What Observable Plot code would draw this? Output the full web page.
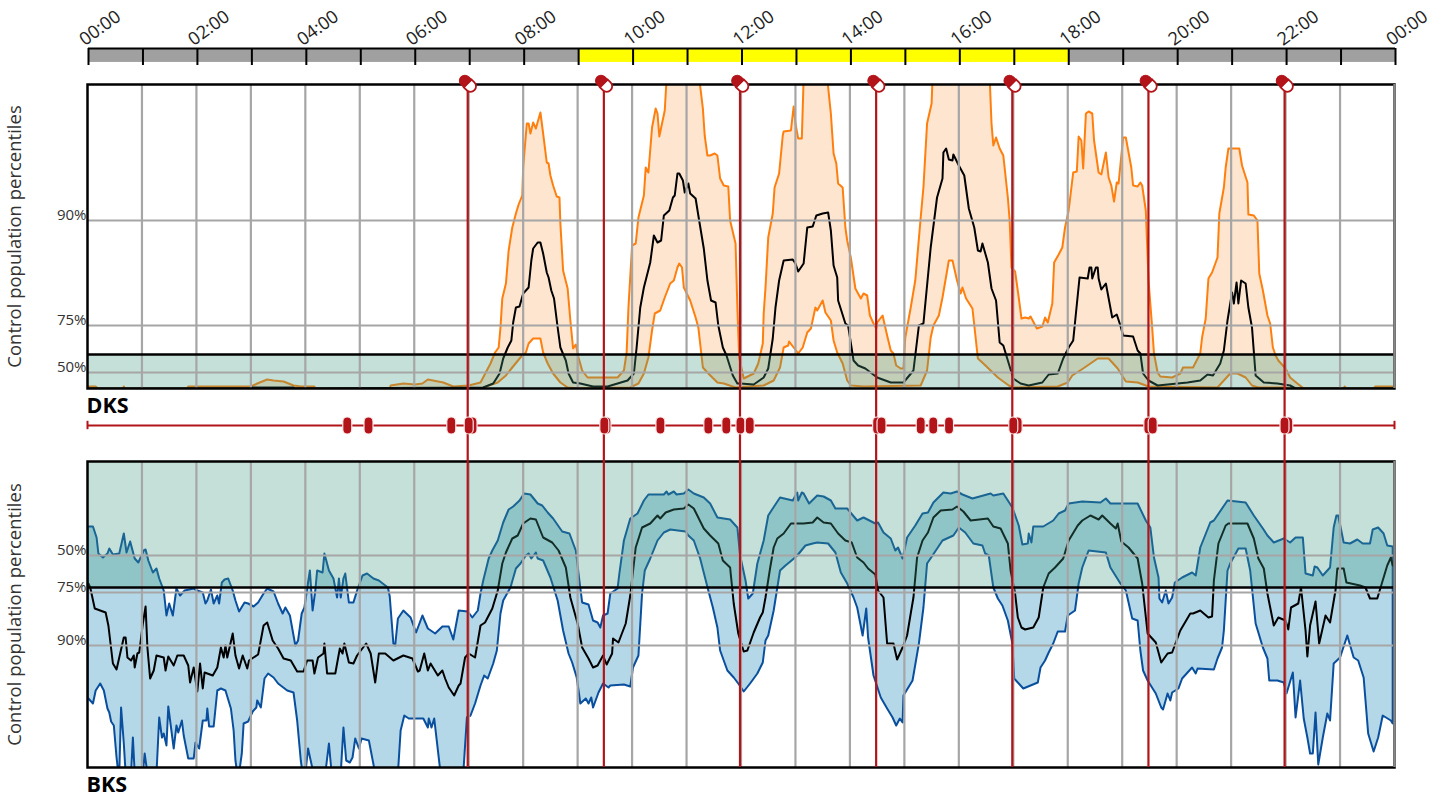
<!DOCTYPE html>
<html>
<head>
<meta charset="utf-8">
<script src="https://cdn.jsdelivr.net/npm/d3@7"></script>
<script src="https://cdn.jsdelivr.net/npm/@observablehq/plot@0.6"></script>
<style>
html,body{margin:0;padding:0;background:#fff}
#chart{position:relative;width:1444px;height:797px;overflow:hidden;font-family:"Open Sans",sans-serif}
#chart svg{position:absolute;left:0}
</style>
</head>
<body>
<div id="chart"></div>
<script>
// Each series: [minute of day, level on the panel's percentile scale]
const dksUpper = [[1,2],[9,2],[12,0],[39,0],[40,2],[41,0],[110,0],[111,2],[180,2],[187,5],[198,9],[205,8],[216,7],[227,3],[235,2],[250,2],[251,0],[333,0],[334,3],[348,5],[361,4],[369,5],[375,9],[392,6],[403,2],[420,3],[433,6],[444,25],[449,36],[453,41],[455,61],[457,90],[461,105],[464,138],[468,161],[472,175],[475,184],[479,193],[480,221],[484,265],[486,265],[488,255],[491,266],[494,260],[499,276],[502,255],[506,226],[508,225],[510,213],[513,203],[517,192],[520,191],[521,165],[524,118],[529,100],[532,68],[535,40],[538,44],[541,31],[545,18],[551,11],[584,11],[591,18],[594,36],[596,81],[600,143],[604,145],[607,171],[613,193],[615,221],[618,216],[622,261],[626,280],[628,275],[630,252],[633,265],[636,278],[638,310],[674,310],[678,280],[680,253],[683,233],[686,233],[691,235],[694,233],[697,210],[701,203],[706,202],[708,168],[714,145],[716,81],[718,31],[723,10],[734,15],[739,25],[744,45],[745,75],[747,101],[750,151],[755,175],[757,201],[762,215],[766,253],[767,257],[775,258],[778,282],[780,265],[783,250],[787,250],[789,310],[815,310],[819,275],[822,235],[825,225],[827,205],[832,201],[835,161],[837,148],[841,131],[846,100],[852,90],[855,95],[859,93],[862,73],[866,65],[869,60],[870,66],[876,73],[881,53],[885,38],[888,35],[891,23],[896,20],[899,20],[901,51],[907,81],[912,108],[918,171],[921,201],[925,265],[930,285],[931,310],[994,310],[996,265],[998,243],[1001,251],[1005,240],[1009,233],[1014,191],[1016,168],[1018,121],[1022,117],[1026,91],[1029,70],[1033,71],[1037,70],[1039,72],[1046,60],[1052,62],[1055,71],[1058,66],[1063,85],[1065,126],[1070,134],[1074,141],[1077,161],[1081,178],[1086,216],[1090,217],[1092,252],[1095,248],[1097,220],[1100,275],[1103,277],[1107,275],[1109,248],[1114,216],[1117,214],[1122,236],[1125,211],[1128,203],[1131,187],[1134,206],[1136,205],[1141,251],[1144,251],[1150,221],[1152,203],[1157,202],[1160,206],[1162,203],[1166,178],[1169,108],[1173,61],[1175,35],[1179,16],[1182,12],[1195,11],[1204,15],[1207,21],[1218,21],[1226,35],[1228,51],[1232,70],[1235,110],[1239,116],[1245,131],[1247,175],[1252,201],[1254,221],[1257,240],[1269,240],[1272,223],[1278,206],[1279,174],[1285,173],[1289,168],[1291,115],[1295,98],[1300,73],[1303,65],[1306,41],[1309,33],[1312,28],[1320,20],[1325,11],[1333,5],[1340,0],[1384,0],[1385,2],[1387,0],[1417,0],[1419,2],[1438,2],[1440,0]];
const dksMedian = [[0,0],[180,0],[181,1],[227,1],[228,0],[436,1],[447,5],[454,15],[458,30],[463,41],[467,48],[469,66],[472,81],[476,82],[480,95],[486,101],[489,128],[491,140],[496,146],[499,146],[502,135],[506,116],[508,111],[511,98],[514,90],[518,61],[521,41],[527,28],[530,15],[535,6],[543,5],[557,2],[573,2],[595,8],[602,15],[605,41],[609,81],[613,101],[620,126],[624,153],[628,146],[632,148],[635,173],[641,178],[645,191],[647,193],[650,215],[652,215],[656,208],[658,196],[662,205],[664,195],[670,190],[673,173],[679,140],[683,108],[687,88],[692,86],[695,63],[700,41],[704,33],[711,13],[716,5],[719,5],[734,4],[745,11],[750,20],[755,50],[758,81],[762,108],[767,128],[777,129],[780,125],[783,117],[789,125],[793,161],[799,162],[803,173],[810,175],[816,176],[819,158],[822,123],[826,111],[827,88],[835,65],[838,63],[844,28],[849,23],[857,20],[870,11],[885,6],[899,6],[910,18],[916,63],[921,65],[929,141],[936,191],[942,210],[943,236],[946,240],[949,229],[953,228],[954,234],[960,223],[966,213],[971,180],[977,161],[981,138],[984,137],[986,145],[992,126],[996,100],[1001,88],[1005,46],[1009,43],[1014,28],[1020,10],[1028,5],[1037,3],[1052,6],[1059,14],[1069,15],[1075,30],[1081,41],[1086,48],[1093,111],[1102,110],[1104,121],[1106,121],[1107,110],[1111,121],[1113,121],[1114,110],[1117,99],[1122,105],[1129,71],[1134,74],[1138,63],[1141,53],[1152,52],[1157,38],[1160,35],[1163,15],[1169,8],[1179,3],[1201,5],[1212,6],[1226,8],[1234,14],[1240,13],[1248,25],[1252,38],[1256,68],[1261,96],[1263,85],[1266,106],[1268,85],[1271,108],[1276,105],[1279,81],[1283,61],[1287,13],[1296,6],[1311,5],[1325,3],[1331,0],[1440,0]];
const dksLower = [[0,0],[433,0],[452,6],[461,13],[468,21],[477,31],[483,36],[486,45],[491,50],[499,50],[502,36],[507,25],[513,15],[521,6],[529,1],[543,0],[598,1],[607,5],[613,15],[618,31],[622,58],[625,75],[631,78],[636,91],[642,105],[646,108],[650,121],[652,125],[655,121],[657,101],[664,88],[670,71],[673,61],[678,21],[684,15],[694,6],[701,5],[714,1],[745,3],[756,8],[763,21],[767,41],[772,43],[773,47],[778,41],[783,35],[788,41],[793,56],[797,60],[802,81],[804,78],[810,88],[813,76],[819,68],[822,48],[826,36],[832,25],[837,8],[841,3],[855,2],[918,3],[925,18],[929,51],[932,63],[938,73],[942,91],[949,128],[953,128],[958,108],[962,95],[964,101],[968,90],[975,80],[981,30],[987,25],[1003,11],[1015,3],[1020,1],[1069,2],[1080,6],[1085,13],[1097,20],[1113,30],[1125,30],[1135,20],[1144,7],[1157,6],[1169,2],[1245,1],[1252,8],[1259,15],[1267,15],[1276,11],[1283,3],[1290,1],[1320,1],[1325,0],[1440,0]];

const bksUpper = [[0,241],[6,241],[10,230],[12,214],[17,210],[22,214],[24,219],[28,213],[35,214],[40,234],[43,215],[47,226],[52,209],[56,205],[62,217],[64,218],[67,207],[72,195],[76,199],[79,189],[84,177],[87,152],[90,164],[94,152],[98,179],[102,172],[107,177],[117,179],[121,177],[127,175],[130,164],[132,167],[136,178],[139,164],[143,172],[145,164],[148,185],[151,188],[155,189],[160,177],[163,167],[167,156],[173,165],[177,164],[183,161],[188,165],[194,174],[198,179],[205,176],[210,164],[215,154],[218,160],[223,152],[229,122],[232,127],[236,154],[239,160],[242,179],[245,197],[248,157],[251,177],[253,197],[259,195],[261,214],[266,197],[271,189],[275,170],[277,189],[279,170],[282,189],[284,194],[288,165],[293,165],[297,177],[303,192],[308,194],[315,189],[321,187],[331,180],[333,171],[337,124],[339,122],[342,149],[348,157],[356,150],[362,135],[369,152],[375,139],[383,134],[391,141],[398,141],[403,128],[409,157],[419,156],[424,150],[430,157],[433,174],[436,187],[442,209],[446,217],[452,227],[458,245],[464,258],[469,261],[476,267],[481,274],[488,273],[496,264],[501,262],[507,255],[513,249],[523,236],[531,234],[538,217],[541,194],[545,165],[552,163],[557,147],[562,145],[565,140],[568,152],[573,154],[576,174],[584,179],[586,194],[591,227],[598,249],[606,254],[613,267],[618,273],[635,273],[638,276],[640,273],[646,276],[649,273],[657,274],[662,278],[668,274],[679,270],[686,264],[694,250],[708,248],[716,240],[719,212],[725,187],[728,169],[733,174],[738,204],[745,227],[750,252],[755,259],[763,270],[777,267],[782,275],[783,267],[787,275],[789,274],[795,264],[804,272],[811,271],[819,267],[824,259],[837,259],[848,247],[855,250],[868,244],[871,245],[877,235],[885,229],[890,217],[893,220],[898,209],[903,230],[912,242],[920,254],[926,255],[932,265],[943,275],[951,274],[958,276],[964,273],[975,269],[995,274],[998,272],[1009,274],[1019,260],[1026,242],[1030,223],[1036,224],[1037,234],[1040,225],[1042,241],[1053,241],[1064,247],[1070,254],[1077,257],[1081,264],[1096,266],[1116,265],[1122,269],[1127,264],[1157,264],[1166,247],[1171,240],[1175,210],[1180,190],[1181,169],[1184,165],[1188,177],[1191,164],[1195,170],[1198,185],[1206,190],[1217,195],[1221,192],[1226,220],[1237,245],[1241,247],[1256,267],[1276,265],[1285,252],[1295,239],[1300,232],[1307,225],[1318,229],[1325,225],[1331,230],[1339,230],[1342,194],[1350,192],[1352,201],[1355,200],[1361,192],[1369,200],[1373,240],[1376,252],[1378,252],[1384,225],[1391,224],[1399,228],[1405,224],[1413,224],[1416,238],[1422,240],[1428,234],[1432,222],[1438,221]];
const bksMedian = [[1,184],[3,180],[8,159],[20,155],[23,142],[28,104],[32,98],[35,110],[40,130],[42,130],[44,110],[48,107],[51,112],[52,100],[55,114],[57,115],[61,144],[64,161],[66,120],[69,89],[73,97],[76,112],[84,110],[86,97],[89,111],[95,102],[99,112],[106,112],[111,102],[113,85],[117,100],[121,76],[124,104],[127,79],[129,95],[138,92],[143,100],[147,120],[150,110],[152,122],[154,110],[160,134],[163,112],[167,99],[171,112],[176,99],[178,107],[188,113],[194,142],[198,145],[204,127],[210,119],[216,109],[224,107],[231,96],[238,96],[242,107],[248,107],[250,94],[254,110],[260,114],[261,124],[264,94],[273,94],[278,119],[281,114],[283,124],[288,105],[293,104],[297,112],[307,124],[312,114],[317,85],[321,114],[328,114],[337,107],[348,112],[358,109],[364,96],[366,97],[371,114],[375,97],[378,104],[386,92],[391,97],[394,89],[398,80],[404,72],[409,82],[411,84],[416,110],[420,114],[427,110],[433,142],[438,145],[446,159],[452,177],[457,204],[461,215],[468,229],[474,232],[480,244],[488,249],[494,248],[502,230],[512,225],[519,217],[527,200],[532,170],[540,144],[545,120],[552,109],[557,100],[562,102],[565,107],[568,112],[572,103],[578,114],[579,129],[585,125],[593,144],[598,172],[604,220],[611,240],[620,244],[628,252],[631,249],[637,255],[646,258],[657,259],[662,263],[668,259],[679,239],[686,232],[695,224],[700,207],[708,200],[712,164],[717,134],[723,116],[727,117],[734,135],[741,150],[744,155],[747,170],[752,199],[756,220],[760,229],[767,234],[775,244],[789,244],[799,245],[804,250],[811,245],[819,244],[827,234],[835,227],[842,225],[848,210],[855,205],[860,199],[868,193],[871,177],[877,170],[881,124],[888,124],[892,108],[898,120],[903,132],[907,154],[910,170],[914,210],[920,227],[926,235],[932,250],[940,257],[953,258],[958,261],[965,256],[973,247],[992,249],[998,241],[1006,239],[1014,224],[1017,197],[1022,174],[1025,150],[1029,140],[1033,138],[1042,140],[1048,150],[1053,180],[1059,194],[1066,200],[1075,209],[1081,227],[1091,242],[1096,247],[1105,252],[1114,248],[1118,252],[1127,244],[1133,239],[1135,244],[1139,226],[1147,220],[1157,209],[1162,184],[1168,134],[1177,125],[1183,105],[1190,114],[1195,115],[1204,137],[1215,154],[1218,154],[1226,157],[1235,150],[1239,151],[1241,187],[1246,224],[1254,242],[1257,244],[1278,244],[1285,229],[1290,209],[1296,199],[1300,174],[1307,142],[1312,150],[1320,147],[1323,138],[1326,160],[1334,164],[1337,180],[1342,137],[1344,111],[1347,142],[1353,166],[1357,124],[1364,152],[1369,145],[1375,177],[1377,199],[1384,199],[1387,185],[1402,182],[1408,180],[1413,169],[1421,169],[1432,202],[1436,210],[1438,202]];
const bksLower = [[0,70],[6,64],[9,77],[14,84],[18,77],[22,59],[24,55],[26,46],[29,42],[32,10],[34,-6],[35,-6],[37,60],[40,24],[42,-6],[48,-6],[50,30],[52,-6],[61,-6],[63,14],[66,-6],[76,-6],[79,50],[82,30],[84,34],[87,22],[89,61],[95,19],[98,42],[100,35],[104,47],[106,32],[111,9],[117,9],[119,25],[123,19],[127,47],[131,47],[132,59],[134,41],[139,41],[143,77],[147,79],[152,77],[158,59],[161,37],[163,7],[165,-6],[167,-6],[170,14],[172,44],[177,46],[182,56],[186,60],[187,67],[191,60],[195,89],[199,94],[205,90],[210,84],[220,77],[227,75],[231,47],[235,7],[237,-6],[240,-6],[243,19],[249,-6],[262,-6],[266,24],[269,-6],[279,-6],[282,40],[285,7],[289,5],[292,10],[295,29],[299,19],[302,29],[310,27],[317,-6],[342,-6],[345,37],[349,52],[354,49],[370,49],[375,40],[376,49],[379,40],[382,49],[389,-6],[414,-6],[418,50],[422,52],[427,64],[433,82],[437,92],[441,89],[447,104],[451,117],[455,154],[458,167],[466,180],[472,199],[477,204],[483,212],[486,214],[489,209],[494,215],[496,209],[502,207],[510,190],[518,167],[524,137],[530,114],[534,105],[539,90],[543,64],[549,69],[552,64],[555,70],[557,60],[563,75],[568,84],[574,80],[576,82],[591,83],[598,81],[601,100],[607,112],[611,174],[614,197],[620,209],[628,227],[635,235],[642,238],[659,236],[662,232],[668,227],[675,209],[684,177],[689,160],[694,140],[697,117],[705,97],[712,90],[717,84],[723,76],[730,84],[738,94],[744,105],[747,127],[750,132],[756,157],[763,197],[769,202],[777,208],[782,212],[791,222],[799,224],[804,225],[816,224],[824,215],[830,195],[837,184],[844,170],[848,160],[854,132],[858,159],[860,130],[866,92],[874,70],[881,59],[887,50],[891,42],[895,49],[898,45],[899,72],[909,87],[916,124],[921,160],[925,204],[931,212],[942,227],[954,232],[960,240],[967,235],[976,224],[986,222],[989,214],[993,212],[998,180],[1003,169],[1008,162],[1014,147],[1019,124],[1021,89],[1028,82],[1031,79],[1039,82],[1047,85],[1050,100],[1055,107],[1059,115],[1064,124],[1069,136],[1077,136],[1080,152],[1088,157],[1092,184],[1096,200],[1103,217],[1122,215],[1127,200],[1138,184],[1144,177],[1151,149],[1157,147],[1160,117],[1163,97],[1168,87],[1177,74],[1183,60],[1185,58],[1190,74],[1193,67],[1195,75],[1202,79],[1206,89],[1217,100],[1221,94],[1223,99],[1241,98],[1245,109],[1250,120],[1252,137],[1256,197],[1259,204],[1268,219],[1276,219],[1281,197],[1287,144],[1295,120],[1300,109],[1302,87],[1311,87],[1318,85],[1321,74],[1328,95],[1331,50],[1336,87],[1340,49],[1344,30],[1347,14],[1350,14],[1353,55],[1356,3],[1361,30],[1366,54],[1369,47],[1373,104],[1380,110],[1388,132],[1395,110],[1400,107],[1406,90],[1411,34],[1417,16],[1422,30],[1427,52],[1436,47],[1438,44]];

const timeLabels = ["00:00","02:00","04:00","06:00","08:00","10:00","12:00","14:00","16:00","18:00","20:00","22:00","00:00"];
const labelHours = [0,2,4,6,8,10,12,14,16,18,20,22,24];
const gridHours = [1,2,3,4,5,6,7,8,9,10,11,12,13,14,15,16,17,18,19,20,21,22,23];
const dayPhases = [[0,9,"#a0a0a0"],[9,18,"#ffff00"],[18,24,"#a0a0a0"]];
const doseHours = [7,9.5,12,14.5,17,19.5,22];
const takenHours = [4.77,5.16,6.68,7.07,7,9.53,9.49,10.52,11.4,11.73,11.99,12.16,14.5,14.58,15.3,15.53,15.82,17.08,17,19.48,19.56,22.05,21.98];
const dksTicks = [["90%",168],["75%",63],["50%",16]];
const bksTicks = [["50%",212],["75%",175],["90%",122]];
const dksThreshold = 34, bksThreshold = 180;
const dksTop = 304, bksTop = 306;

const RED = "#b2141a", GRID = "#a6a6a6", GREEN = "rgb(62,152,125)";
const FONT = '"Open Sans",sans-serif';
const chart = document.getElementById("chart");
const mX = {type:"linear", domain:[0,1440]};
const t = d => d[0], v = d => d[1];

function mount(plot, top, z) {
  plot.style.top = top + "px";
  plot.style.zIndex = z;
  plot.style.background = "transparent";
  chart.appendChild(plot);
}

function panel({upper, median, lower, fill, stroke, ticks, name, top, band, threshold}) {
  const outline = [...upper, ...lower.slice().reverse(), upper[0]];
  return Plot.plot({
    width:1444, height:top + 34, marginLeft:87, marginRight:50, marginTop:4, marginBottom:30,
    style:{background:"transparent", fontFamily:FONT, overflow:"visible"},
    x:{...mX, axis:null},
    y:{type:"linear", domain:[0,top], axis:null},
    marks:[
      Plot.line(outline, {x:t, y:v, fill, stroke:"none", clip:true}),
      Plot.line(outline, {x:t, y:v, stroke, strokeWidth:2, clip:true, strokeLinejoin:"round"}),
      Plot.line(median, {x:t, y:v, stroke:"#000", strokeWidth:2, clip:true}),
      Plot.rect([band], {x1:0, x2:1440, y1:d=>d[0], y2:d=>d[1], fill:GREEN, fillOpacity:0.3}),
      Plot.ruleX(gridHours, {x:d=>d*60, stroke:GRID, strokeWidth:2.2}),
      Plot.ruleY(ticks, {y:v, stroke:GRID, strokeWidth:2.2}),
      Plot.ruleY([threshold], {stroke:"#000", strokeWidth:2.4}),
      Plot.frame({stroke:"#000", strokeWidth:2.5}),
      Plot.ruleX([1440], {stroke:"#888", strokeWidth:2.5}),
      Plot.text(ticks, {x:0, y:v, text:t, textAnchor:"end", dx:-1, dy:-5, fontSize:15, fill:"#333", fontFamily:FONT}),
      Plot.text(["Control population percentiles"], {frameAnchor:"left", textAnchor:"middle", dx:-72, rotate:-90, fontSize:18.5, fill:"#333", fontFamily:FONT}),
      Plot.text([name], {frameAnchor:"bottom-left", textAnchor:"start", lineAnchor:"middle", dx:-1, dy:18, fontSize:21.5, fontWeight:"bold", fill:"#000", fontFamily:FONT})
    ]
  });
}

// time strip
mount(Plot.plot({
  width:1444, height:66, marginLeft:88, marginRight:49, marginTop:48, marginBottom:1,
  style:{background:"transparent", fontFamily:FONT, overflow:"visible"},
  x:{...mX, axis:null},
  y:{domain:[0,1], axis:null},
  marks:[
    Plot.rect(dayPhases, {x1:d=>d[0]*60, x2:d=>d[1]*60, y1:0.18, y2:1, fill:d=>d[2]}),
    Plot.ruleY([1], {stroke:"#000", strokeWidth:2}),
    Plot.ruleX([0, ...gridHours, 24], {x:d=>d*60, stroke:"#000", strokeWidth:2}),
    Plot.text(labelHours, {x:d=>d*60, y:1, text:(d,i)=>timeLabels[i], rotate:-36, textAnchor:"start", dx:-7, dy:-7, fontSize:18, fill:"#222", fontFamily:FONT})
  ]
}), 0, 1);

mount(panel({upper:dksUpper, median:dksMedian, lower:dksLower, fill:"#fde5cf", stroke:"#ff7f0e",
  ticks:dksTicks, name:"DKS", top:dksTop, band:[0,dksThreshold], threshold:dksThreshold}), 80, 2);
mount(panel({upper:bksUpper, median:bksMedian, lower:bksLower, fill:"#b4d8e8", stroke:"#0a4f9e",
  ticks:bksTicks, name:"BKS", top:bksTop, band:[bksThreshold,bksTop], threshold:bksThreshold}), 457, 3);

// capsule glyphs: two half-capsules along x, turned by the dot's rotate
const R = 5.5, L = 4;
const leftHalf = {draw(c){c.moveTo(0,-R);c.lineTo(-L,-R);c.arc(-L,0,R,-Math.PI/2,Math.PI/2,true);c.lineTo(0,R);c.closePath();}};
const rightHalf = {draw(c){c.moveTo(0,-R);c.lineTo(L,-R);c.arc(L,0,R,-Math.PI/2,Math.PI/2);c.lineTo(0,R);c.closePath();}};
const pill = {draw(c){const r=4.5,l=4;c.moveTo(-r,-l);c.arc(0,-l,r,Math.PI,0);c.lineTo(r,l);c.arc(0,l,r,0,Math.PI);c.closePath();}};

// dose lines and capsules across both panels
mount(Plot.plot({
  width:1444, height:797, marginLeft:86, marginRight:51, marginTop:83, marginBottom:30,
  style:{background:"transparent", overflow:"visible"},
  x:{...mX, axis:null},
  marks:[
    Plot.ruleX(doseHours, {x:d=>d*60, stroke:RED, strokeWidth:2.2}),
    Plot.dot(doseHours, {x:d=>d*60, frameAnchor:"top", symbol:rightHalf, rotate:45, fill:"#fff", stroke:RED, strokeWidth:1.8}),
    Plot.dot(doseHours, {x:d=>d*60, frameAnchor:"top", symbol:leftHalf, rotate:45, fill:RED, stroke:RED, strokeWidth:1})
  ]
}), 0, 4);

// treatment strip
mount(Plot.plot({
  width:1444, height:24, marginLeft:87, marginRight:50, marginTop:0, marginBottom:0,
  style:{background:"transparent", overflow:"visible"},
  x:{...mX, axis:null},
  y:{domain:[-1,1], axis:null},
  marks:[
    Plot.ruleY([0], {stroke:RED, strokeWidth:2.2}),
    Plot.ruleX([0,1440], {y1:-0.35, y2:0.35, stroke:RED, strokeWidth:2}),
    Plot.dot(takenHours, {x:d=>d*60, y:0, symbol:pill, fill:RED, stroke:"#fbe9e9", strokeWidth:1.2})
  ]
}), 413, 5);
</script>
</body>
</html>
